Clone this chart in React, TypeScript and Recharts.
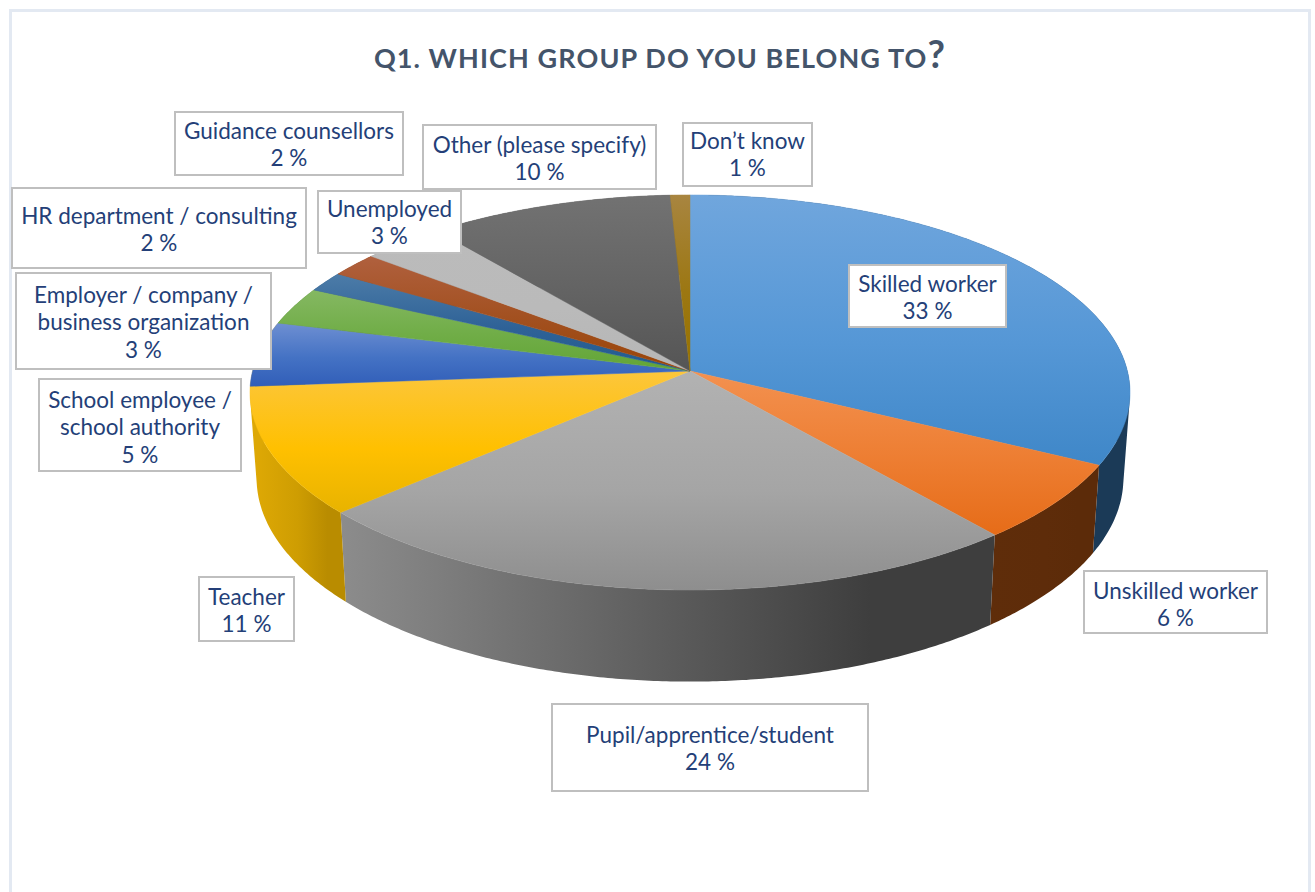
import { PieChart, Pie, Cell } from "recharts";

const categories = [
  "Skilled worker",
  "Unskilled worker",
  "Pupil/apprentice/student",
  "Teacher",
  "School employee /\nschool authority",
  "Employer / company /\nbusiness organization",
  "HR department / consulting",
  "Guidance counsellors",
  "Unemployed",
  "Other (please specify)",
  "Don’t know",
];
// the printed labels round these
const values = [32.6, 6.4, 24.3, 10.5, 5.3, 3.1, 1.65, 2, 3.4, 10, 0.8];
const chartData = categories.map((name, i) => ({ name, value: values[i] }));

// top face gradient: upper, middle, lower
const topColors = [
  ["#70A6DD", "#5597D6", "#3F87C8"],
  ["#F39150", "#ED7D31", "#E66C18"],
  ["#B2B2B2", "#A5A5A5", "#8E8E8E"],
  ["#FCC63C", "#FFC000", "#E8B300"],
  ["#6E8FD2", "#4472C4", "#315EB8"],
  ["#85B862", "#70AD47", "#62A536"],
  ["#4C7CA8", "#2F6297", "#205B8F"],
  ["#B0603E", "#A2501F", "#9A4406"],
  ["#BBBBBB", "#BABABA", "#B6B6B6"],
  ["#727272", "#636363", "#555555"],
  ["#A88540", "#9C7712", "#977200"],
];
// rim gradient: left, middle, right
const wallColors = [
  ["#1B3A57", "#1C3B58", "#1B3A57"],
  ["#5F2D0A", "#5E2C0A", "#5C2B09"],
  ["#8C8C8C", "#5C5C5C", "#3E3E3E"],
  ["#E0AA05", "#CE9D02", "#B98C00"],
  ["#DDA805", "#DDA805", "#DDA805"],
  ["#4E7A32", "#4E7A32", "#4E7A32"],
  ["#1C4468", "#1C4468", "#1C4468"],
  ["#6E3208", "#6E3208", "#6E3208"],
  ["#7A7A7A", "#7A7A7A", "#7A7A7A"],
  ["#444444", "#444444", "#444444"],
  ["#6A5000", "#6A5000", "#6A5000"],
];

// label boxes: left, top, right, bottom, then y of the first text line
const labelBoxes = [
  [849, 265, 1006, 327, 283],
  [1084, 571, 1267, 633, 590],
  [552, 704, 868, 791, 734],
  [199, 577, 294, 641, 596],
  [39, 379, 241, 471, 399],
  [16, 273, 271, 369, 294],
  [12, 188, 306, 268, 215],
  [175, 112, 403, 175, 130],
  [318, 191, 461, 253, 208],
  [423, 125, 656, 189, 144],
  [683, 123, 812, 186, 140],
];
const lineGap = 27.5;

const WIDTH = 1315;
const HEIGHT = 892;
const APEX_X = 690;
const APEX_Y = 371;

// tilted disc: the near side of the circle is drawn larger than the far side
const TILT = 0.1088;
const RX = 437.4;
const RY = 195.2;
const RIM_DROP = 85;
const RIM_X = 0.985;
const RIM_Y = 1.03;

const project = (angle: number, rim: boolean) => {
  const rad = (angle * Math.PI) / 180;
  const u = Math.cos(rad);
  const v = Math.sin(rad);
  const w = 1 + TILT * v;
  const x = (RX * u) / w;
  const y = (-RY * v) / w;
  return rim
    ? [APEX_X + RIM_X * x, APEX_Y + RIM_DROP + RIM_Y * y]
    : [APEX_X + x, APEX_Y + y];
};

const arcCoords = (start: number, end: number, rim: boolean) => {
  const steps = Math.max(2, Math.ceil(Math.abs(end - start) * 2));
  const pts: number[][] = [];
  for (let i = 0; i <= steps; i++) {
    pts.push(project(start + ((end - start) * i) / steps, rim));
  }
  return pts;
};

const toPath = (pts: number[][]) => `M${pts.map((p) => `${p[0].toFixed(2)} ${p[1].toFixed(2)}`).join("L")}Z`;

const signedArea = (pts: number[][]) =>
  pts.reduce((sum, p, i) => {
    const q = pts[(i + 1) % pts.length];
    return sum + p[0] * q[1] - q[0] * p[1];
  }, 0);

const TopFace = (props: any) => {
  const { startAngle, endAngle, index } = props;
  const path = toPath([[APEX_X, APEX_Y], ...arcCoords(startAngle, endAngle, false)]);
  return <path d={path} fill={`url(#top${index})`} stroke={`url(#top${index})`} strokeWidth={0.5} />;
};

// rim is a strip of small quads so the side silhouette stays filled
const RimFace = (props: any) => {
  const { startAngle, endAngle, index } = props;
  const upper = arcCoords(startAngle, endAngle, false);
  const lower = arcCoords(startAngle, endAngle, true);
  let d = "";
  for (let i = 0; i < upper.length - 1; i++) {
    const quad = [upper[i], upper[i + 1], lower[i + 1], lower[i]];
    d += toPath(signedArea(quad) < 0 ? quad.reverse() : quad);
  }
  return <path d={d} fill={`url(#wall${index})`} />;
};

const renderLabel = (props: any) => {
  const { index } = props;
  const [left, top, right, bottom, firstLine] = labelBoxes[index];
  const lines = [...categories[index].split("\n"), `${Math.round(values[index])} %`];
  const mid = (left + right) / 2;
  return (
    <g key={categories[index]}>
      <rect x={left} y={top} width={right - left} height={bottom - top} fill="#fff" stroke="#BFBFBF" strokeWidth={2} />
      <text textAnchor="middle" fontFamily="Lato" fontSize={22.5} fill="#243F78">
        {lines.map((line, i) => (
          <tspan key={i} x={mid} y={firstLine + i * lineGap} dominantBaseline="central">
            {line}
          </tspan>
        ))}
      </text>
    </g>
  );
};

const App = () => {
  return (
    <div
      style={{
        position: "absolute",
        left: 0,
        top: 0,
        width: WIDTH,
        height: HEIGHT,
        background: "#fff",
        overflow: "hidden",
      }}
    >
      <div
        style={{
          position: "absolute",
          left: 9,
          top: 9,
          width: 1296,
          height: HEIGHT,
          border: "3px solid #E3E9F2",
          boxSizing: "content-box",
        }}
      />
      <div style={{ position: "absolute", left: 0, top: 0 }}>
        <PieChart width={WIDTH} height={HEIGHT} margin={{ top: 0, right: 0, bottom: 0, left: 0 }}>
          <defs>
            {topColors.map((c, i) => (
              <linearGradient key={i} id={`top${i}`} x1="0" y1="0" x2="0" y2="1">
                <stop offset="0%" stopColor={c[0]} />
                <stop offset="55%" stopColor={c[1]} />
                <stop offset="100%" stopColor={c[2]} />
              </linearGradient>
            ))}
            {wallColors.map((c, i) => (
              <linearGradient key={i} id={`wall${i}`} x1="0" y1="0" x2="1" y2="0">
                <stop offset="0%" stopColor={c[0]} />
                <stop offset="50%" stopColor={c[1]} />
                <stop offset="81%" stopColor={c[2]} />
                <stop offset="100%" stopColor={c[2]} />
              </linearGradient>
            ))}
          </defs>
          <text
            x={660}
            y={68}
            textAnchor="middle"
            fontFamily="Lato"
            fontWeight={700}
            fontSize={27}
            letterSpacing={1.1}
            fill="#44546A"
          >
            Q1. WHICH GROUP DO YOU BELONG TO<tspan fontSize={38}>?</tspan>
          </text>
          <Pie
            data={chartData}
            dataKey="value"
            nameKey="name"
            cx={APEX_X}
            cy={APEX_Y}
            outerRadius={176}
            startAngle={90}
            endAngle={-270}
            stroke="none"
            isAnimationActive={false}
            shape={RimFace}
          >
            {chartData.map((d) => (
              <Cell key={d.name} />
            ))}
          </Pie>
          <Pie
            data={chartData}
            dataKey="value"
            nameKey="name"
            cx={APEX_X}
            cy={APEX_Y}
            outerRadius={176}
            startAngle={90}
            endAngle={-270}
            stroke="none"
            isAnimationActive={false}
            shape={TopFace}
            label={renderLabel}
            labelLine={false}
          >
            {chartData.map((d) => (
              <Cell key={d.name} />
            ))}
          </Pie>
        </PieChart>
      </div>
    </div>
  );
};

export default App;
